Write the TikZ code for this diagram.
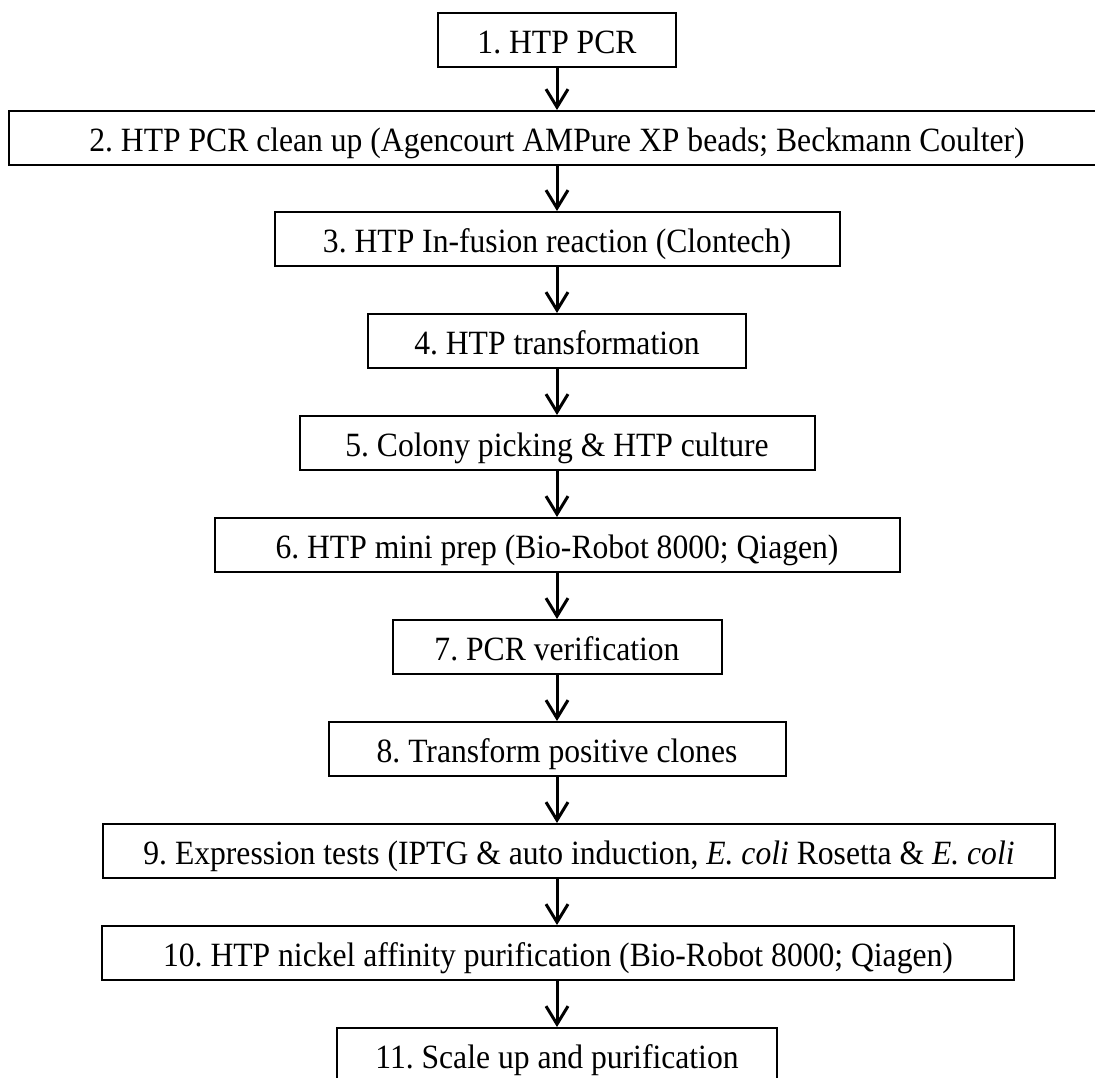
\documentclass[tikz,border=0pt]{standalone}
\usepackage{fontspec}
\setmainfont{Liberation Serif}[FakeStretch=0.93]
\usetikzlibrary{arrows.meta}

\tikzset{
  stepbox/.style={draw=black, line width=2pt, fill=white, rectangle,
    minimum height=54pt, inner sep=0pt, text height=31pt, text depth=5pt,
    font=\fontsize{34pt}{40pt}\selectfont\frenchspacing},
  flow/.style={line width=3pt, -{Straight Barb[length=18pt,width=22pt]}}
}

\begin{document}
\begin{tikzpicture}[x=1pt, y=1pt]
  \useasboundingbox (0,0) rectangle (1095,-1077);
  \fill[white] (0,0) rectangle (1095,-1077);
  \clip (0,0) rectangle (1095,-1077);

  % vertical line along which all arrows run
  \coordinate (spine) at (557,0);

  % process steps (centres at top edge + 27)
  \node[stepbox, minimum width=238pt] (b1)  at (557,-40)   {1. HTP PCR};
  \node[stepbox, minimum width=1096pt] (b2) at (557,-138)  {2. HTP PCR clean up (Agencourt AMPure XP beads; Beckmann Coulter)};
  \node[stepbox, minimum width=565pt] (b3)  at (557,-239)  {3. HTP In-fusion reaction (Clontech)};
  \node[stepbox, minimum width=378pt] (b4)  at (557,-341)  {4. HTP transformation};
  \node[stepbox, minimum width=515pt] (b5)  at (557,-443)  {5. Colony picking \& HTP culture};
  \node[stepbox, minimum width=685pt] (b6)  at (557,-545)  {6. HTP mini prep (Bio-Robot 8000; Qiagen)};
  \node[stepbox, minimum width=329pt] (b7)  at (557,-647)  {7. PCR verification};
  \node[stepbox, minimum width=457pt] (b8)  at (557,-749)  {8. Transform positive clones};
  \node[stepbox, minimum width=952pt] (b9)  at (579,-851)
    {9. Expression tests (IPTG \& auto induction, \textit{E. coli} Rosetta \& \textit{E. coli}};
  \node[stepbox, minimum width=912pt] (b10) at (558,-953)  {10. HTP nickel affinity purification (Bio-Robot 8000; Qiagen)};
  \node[stepbox, minimum width=440pt] (b11) at (557,-1055) {11. Scale up and purification};

  % connectors
  \foreach \a/\b in {b1/b2, b2/b3, b3/b4, b4/b5, b5/b6, b6/b7, b7/b8, b8/b9, b9/b10, b10/b11}
    \draw[flow] (\a.south -| spine) -- (\b.north -| spine);
\end{tikzpicture}
\end{document}
